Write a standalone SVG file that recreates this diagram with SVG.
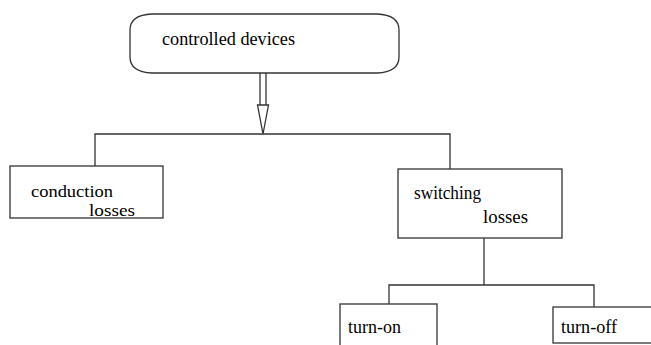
<svg xmlns="http://www.w3.org/2000/svg" width="651" height="345" viewBox="0 0 651 345">
<style>
.box{fill:#fff;stroke:#333;stroke-width:1.3}
.ln{fill:none;stroke:#333;stroke-width:1.3}
text{font-family:'Liberation Serif','Times New Roman',serif;font-size:19px;fill:#000}
.sm{font-size:17.5px}
</style>
<rect width="651" height="345" fill="#fff"/>
<g id="connectors">
<line class="ln" x1="260" y1="73" x2="260" y2="105"/>
<line class="ln" x1="266" y1="73" x2="266" y2="105"/>
<polygon class="box" points="257.5,105 268.5,105 263,134"/>
<polyline class="ln" points="95,166 95,134 450,134 450,169"/>
<line class="ln" x1="484" y1="238" x2="484" y2="285"/>
<polyline class="ln" points="389,304 389,285 594,285 594,307"/>
</g>
<g id="controlled">
<path class="box" d="M152 14 H377 Q399 15 399 30 V57 Q399 72 377 73 H152 Q130 72 130 57 V30 Q130 15 152 14 Z"/>
<text x="162" y="45" textLength="133" lengthAdjust="spacingAndGlyphs">controlled devices</text>
</g>
<g id="conduction">
<rect class="box" x="10" y="166" width="153" height="52"/>
<text class="sm" x="31" y="196.5" textLength="82" lengthAdjust="spacingAndGlyphs">conduction</text>
<text class="sm" x="89" y="216" textLength="46" lengthAdjust="spacingAndGlyphs">losses</text>
</g>
<g id="switching">
<rect class="box" x="398" y="169" width="164" height="69"/>
<text x="414" y="199" textLength="67" lengthAdjust="spacingAndGlyphs">switching</text>
<text x="483" y="223" textLength="45" lengthAdjust="spacingAndGlyphs">losses</text>
</g>
<g id="turnon">
<rect class="box" x="340" y="304" width="97" height="50"/>
<text x="348" y="333" textLength="53" lengthAdjust="spacingAndGlyphs">turn-on</text>
</g>
<g id="turnoff">
<rect class="box" x="553" y="307" width="110" height="36"/>
<text x="561" y="333" textLength="56" lengthAdjust="spacingAndGlyphs">turn-off</text>
</g>
</svg>
